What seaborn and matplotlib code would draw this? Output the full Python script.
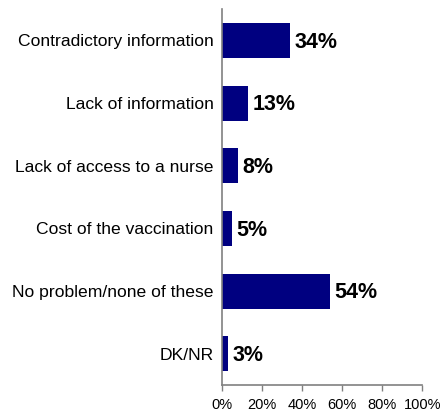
import matplotlib
matplotlib.use("Agg")
import matplotlib.pyplot as plt
import seaborn as sns
import pandas as pd
from matplotlib.ticker import PercentFormatter

# problems with vaccination
categories = ["Contradictory information", "Lack of information",
              "Lack of access to a nurse", "Cost of the vaccination",
              "No problem/none of these", "DK/NR"]
values = [34, 13, 8, 5, 54, 3]

df = pd.DataFrame({"problem": categories, "pct": values})

sns.set_style("white")
plt.rcParams['font.family'] = ['Liberation Sans', 'DejaVu Sans']
plt.rcParams['text.color'] = 'black'
plt.rcParams['xtick.color'] = 'black'
plt.rcParams['ytick.color'] = 'black'

fig = plt.figure(figsize=(4.41, 4.11), dpi=100)
ax = fig.add_axes([0.503, 0.063, 0.455, 0.915])

sns.barplot(data=df, x="pct", y="problem", color="#000080", saturation=1,
            width=0.56, orient="h", ax=ax, linewidth=0)

for i, v in enumerate(values):
    ax.text(v + 2.2, i + 0.03, f"{v}%", va="center", ha="left",
            fontsize=15.5, fontweight="bold", color="black")

ax.set_xlim(0, 100)
ax.set_xticks(range(0, 101, 20))
ax.xaxis.set_major_formatter(PercentFormatter(decimals=0))
ax.set_xlabel("")
ax.set_ylabel("")
ax.tick_params(axis="y", length=0, labelsize=12.6, pad=6, labelcolor="black")
ax.tick_params(axis="x", length=4, width=1, color="#808080", labelsize=10.5,
               direction="out", bottom=True, pad=5, labelcolor="black")

for s in ["top", "right"]:
    ax.spines[s].set_visible(False)
for s in ["left", "bottom"]:
    ax.spines[s].set_color("#808080")
    ax.spines[s].set_linewidth(1.2)

fig.savefig("out.png", dpi=100)
